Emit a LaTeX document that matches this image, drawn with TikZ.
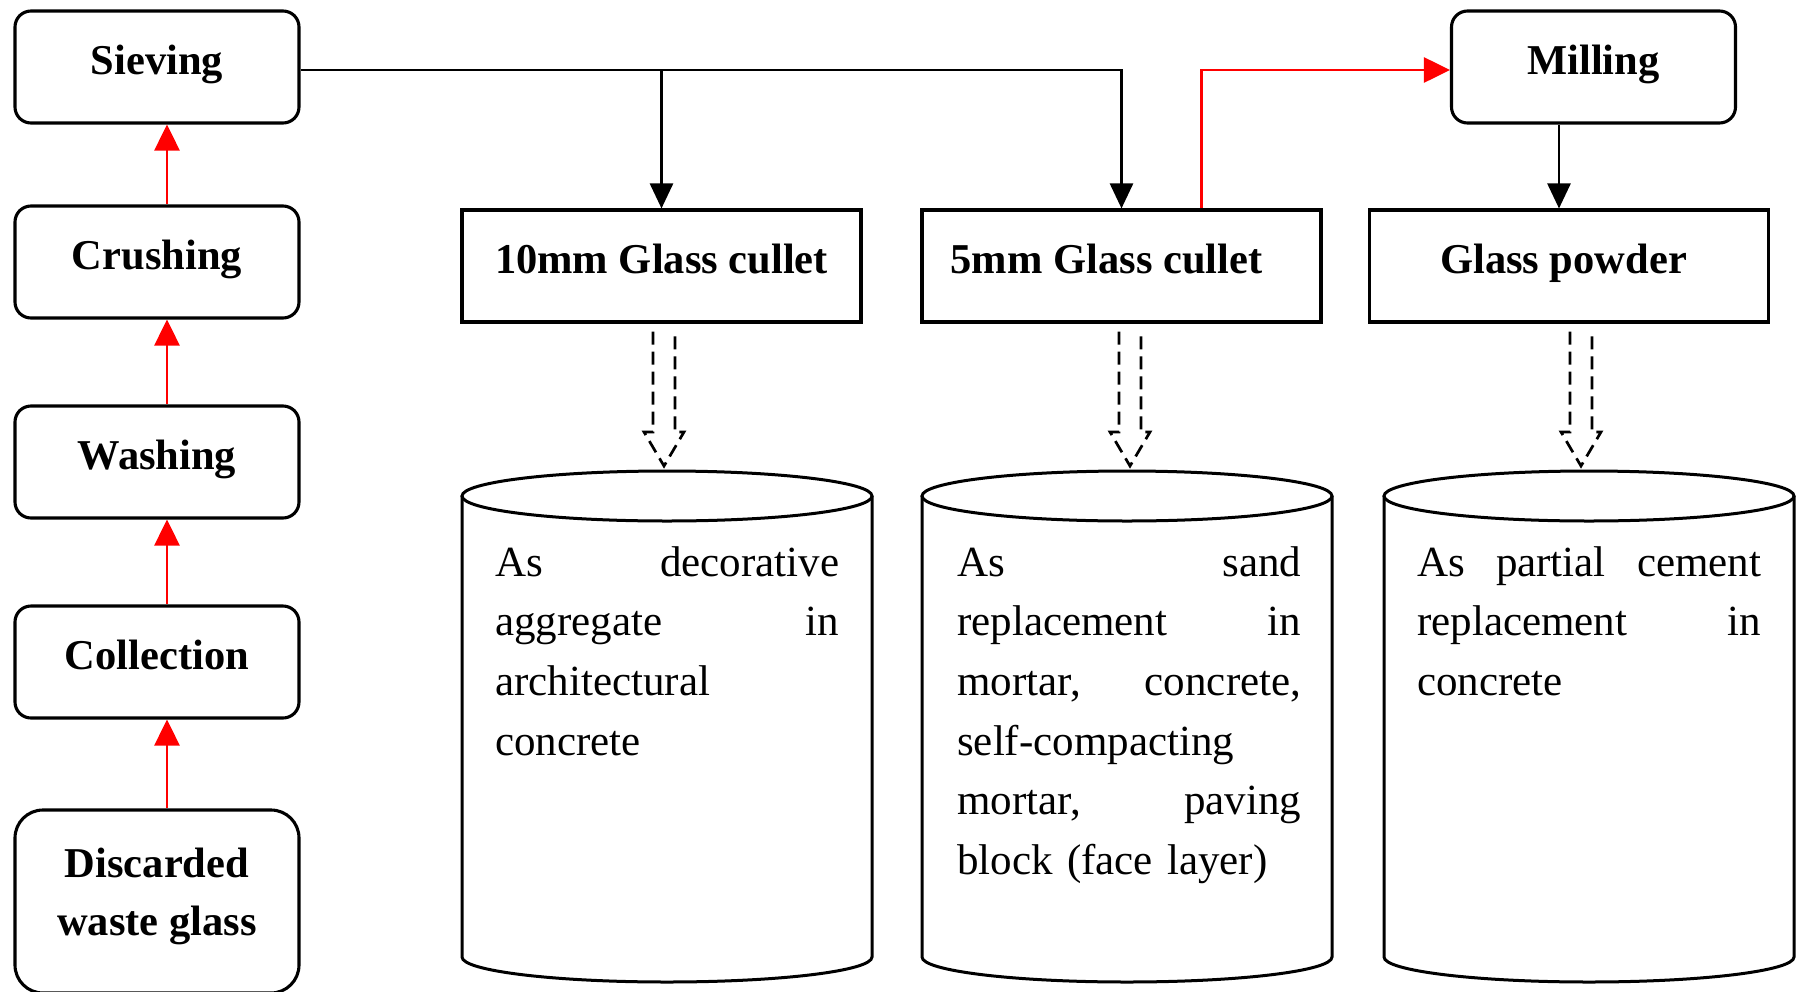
\documentclass[tikz,border=0pt]{standalone}
\usepackage{fontspec}
\setmainfont{Liberation Serif}
\usetikzlibrary{arrows.meta,calc}
\begin{document}
\begin{tikzpicture}[x=1pt,y=-1pt,
  procbox/.style={draw, line width=3.1pt, inner sep=0pt, font=\bfseries\fontsize{42.5pt}{58pt}\selectfont},
  fixbase/.style={text height=30pt, text depth=16pt},
  roundbox/.style={procbox, rounded corners=16pt, minimum width=284pt, minimum height=112pt, fixbase},
  prodbox/.style={procbox, minimum width=399pt, minimum height=112pt, fixbase},
  cylbody/.style={inner sep=0pt, outer sep=0pt, minimum width=410pt, minimum height=461pt},
  cylline/.style={line width=3pt},
  usetext/.style={anchor=base west, inner sep=0pt, text width=344pt, align=left, font=\fontsize{43pt}{59.7pt}\selectfont},
  redarr/.style={draw=red, line width=2.8pt, -{Triangle[length=26pt,width=25pt]}},
  blkarr/.style={draw=black, line width=2.6pt, -{Triangle[length=25pt,width=23pt]}},
  dblarr/.style={line width=2.7pt, dash pattern=on 13pt off 7pt}
]
\useasboundingbox (0,0) rectangle (1797,991);
\fill[white] (0,0) rectangle (1797,991);

% left process column
\node[roundbox] (sieve) at (157,67) {Sieving};
\node[roundbox] (crush) at (157,262) {Crushing};
\node[roundbox] (wash) at (157,462) {Washing};
\node[roundbox] (coll) at (157,662) {Collection};
\node[procbox, rounded corners=28pt, minimum width=284pt, minimum height=183pt, align=center] (disc) at (157,901.5) {Discarded\\waste glass\rule[-20pt]{0pt}{20pt}};

\draw[redarr] ([xshift=10pt]disc.north) -- ([xshift=10pt]coll.south);
\draw[redarr] ([xshift=10pt]coll.north) -- ([xshift=10pt]wash.south);
\draw[redarr] ([xshift=10pt]wash.north) -- ([xshift=10pt]crush.south);
\draw[redarr] ([xshift=10pt]crush.north) -- ([xshift=10pt]sieve.south);

% products
\node[roundbox] (mill) at (1593.5,67) {Milling};
\node[prodbox] (b1) at (661.5,266) {10mm Glass cullet};
\node[prodbox] (b2) at (1121.5,266) {5mm Glass cullet\hspace*{30pt}};
\node[prodbox] (b3) at (1569,266) {Glass powder\hspace*{11pt}};

\draw[blkarr] ([yshift=-3pt]sieve.east) -| (b2.north);
\draw[blkarr] ([yshift=-3pt]sieve.east -| b1.north) -- (b1.north);
\draw[redarr] ([xshift=80pt]b2.north) |- ([yshift=-3pt]mill.west);
\draw[blkarr] ([xshift=-10pt]b3.north |- mill.south) -- ([xshift=-10pt]b3.north);

% cylinders
\node[cylbody] (c1) at (667,726.5) {};
\node[cylbody] (c2) at (1127,726.5) {};
\node[cylbody] (c3) at (1589,726.5) {};
\foreach \c in {c1,c2,c3} {
  \draw[cylline] (\c.north west) -- (\c.south west) arc[start angle=180,end angle=360,x radius=205pt,y radius=25pt] -- (\c.north east);
  \draw[cylline] (\c.north) ellipse[x radius=205pt,y radius=25pt];
}

\node[usetext] (t1) at ($(c1.north west)+(33,80)$) {\makebox[\linewidth][s]{As\hfill decorative}\\\makebox[\linewidth][s]{aggregate\hfill in}\\architectural\\concrete};
\node[usetext] (t2) at ($(c2.north west)+(35,80)$) {\makebox[\linewidth][s]{As\hfill sand}\\\makebox[\linewidth][s]{replacement\hfill in}\\\makebox[\linewidth][s]{mortar,\hfill concrete,}\\self-compacting\\\makebox[\linewidth][s]{mortar,\hfill paving}\\block (face layer)};
\node[usetext] (t3) at ($(c3.north west)+(33,80)$) {\makebox[\linewidth][s]{As\hfill partial\hfill cement}\\\makebox[\linewidth][s]{replacement\hfill in}\\concrete};

% dashed double arrows
\coordinate (a1) at ($(c1.north)+(-3,-30)$);
\coordinate (a2) at ($(c2.north)+(3,-30)$);
\coordinate (a3) at ($(c3.north)+(-8,-30)$);
\draw[dblarr] ($(b1.south -| a1)+(-11,8)$) -- ($(a1)+(-11,-34)$) -- ++(-9,0) -- (a1) -- ($(a1)+(20,-34)$) -- ++(-9,0) -- ($(b1.south -| a1)+(11,8)$);
\draw[dblarr] ($(b2.south -| a2)+(-11,8)$) -- ($(a2)+(-11,-34)$) -- ++(-9,0) -- (a2) -- ($(a2)+(20,-34)$) -- ++(-9,0) -- ($(b2.south -| a2)+(11,8)$);
\draw[dblarr] ($(b3.south -| a3)+(-11,8)$) -- ($(a3)+(-11,-34)$) -- ++(-9,0) -- (a3) -- ($(a3)+(20,-34)$) -- ++(-9,0) -- ($(b3.south -| a3)+(11,8)$);
\end{tikzpicture}
\end{document}
